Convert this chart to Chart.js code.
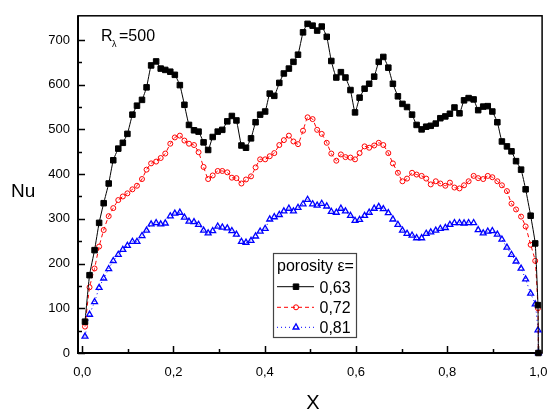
<!DOCTYPE html>
<html>
<head>
<meta charset="utf-8">
<script src="https://cdn.jsdelivr.net/npm/chart.js@4.4.1/dist/chart.umd.min.js"></script>
<style>
  html, body { margin: 0; padding: 0; background: #fff; }
  #wrap { width: 547px; height: 410px; }
</style>
</head>
<body>
<div id="wrap"><canvas id="nuChart" width="547" height="410"></canvas></div>
<script>
// x positions along the channel
const xs = [0.006,0.016,0.027,0.037,0.047,0.058,0.068,0.079,0.089,0.099,
    0.110,0.120,0.131,0.141,0.151,0.162,0.172,0.182,0.193,0.203,
    0.214,0.224,0.234,0.245,0.255,0.266,0.276,0.286,0.297,0.307,
    0.318,0.328,0.338,0.349,0.359,0.370,0.380,0.390,0.401,0.411,
    0.421,0.432,0.442,0.453,0.463,0.473,0.484,0.494,0.505,0.515,
    0.525,0.536,0.546,0.557,0.567,0.577,0.588,0.598,0.608,0.619,
    0.629,0.640,0.650,0.660,0.671,0.681,0.692,0.702,0.712,0.723,
    0.733,0.744,0.754,0.764,0.775,0.785,0.796,0.806,0.816,0.827,
    0.837,0.847,0.858,0.868,0.879,0.889,0.899,0.910,0.920,0.931,
    0.941,0.951,0.962,0.972,0.983,0.993,0.999,1.000];

// Nu for porosity 0,63
const nu063 = [70,174,230,291,335,379,431,457,470,490,
    533,553,566,594,643,652,636,633,629,622,
    599,555,510,498,495,471,454,483,495,499,
    518,530,520,464,459,480,516,533,540,580,
    575,604,625,636,651,667,717,736,732,721,
    730,707,653,616,628,616,588,538,571,591,
    602,618,651,662,638,602,574,557,550,533,
    510,500,506,508,513,525,529,535,549,536,
    565,570,567,543,551,552,540,516,473,462,
    451,429,410,366,307,245,107,0];

// Nu for porosity 0,72
const nu072 = [59,147,189,238,275,306,324,342,350,357,
    366,374,389,410,424,428,436,446,468,482,
    486,475,468,465,449,416,389,397,407,407,
    404,392,391,379,388,395,415,433,433,440,
    447,465,476,486,473,467,497,527,523,499,
    490,470,446,430,444,438,437,433,447,462,
    459,464,470,465,447,424,403,384,390,403,
    399,396,390,377,384,379,374,381,370,368,
    375,384,396,391,389,396,393,384,375,362,
    334,321,305,283,242,206,100,0];

// Nu for porosity 0,81
const nu081 = [37,86,114,146,167,188,206,220,231,240,
    249,249,262,274,288,291,288,290,306,312,
    314,303,294,293,287,274,268,273,283,281,
    279,273,265,249,247,251,261,272,278,299,
    304,309,317,323,317,325,333,343,333,330,
    334,328,316,314,323,317,307,296,298,307,
    314,323,327,322,313,299,287,274,267,263,
    257,257,267,270,274,278,280,287,291,291,
    290,291,291,275,268,272,273,265,254,236,
    220,205,189,165,133,109,51,0];

const seriesLabels = ['0,63', '0,72', '0,81'];
const xTicks = [0, 0.2, 0.4, 0.6, 0.8, 1.0];
const xMinor = [0.1, 0.3, 0.5, 0.7, 0.9];
const yTicks = [0, 100, 200, 300, 400, 500, 600, 700];
const yMinor = [50, 150, 250, 350, 450, 550, 650];

const FONT = "'Liberation Sans', Arial, sans-serif";
const toPts = ys => xs.map((x, i) => ({ x: x, y: ys[i] }));

const styles = [
    { color: '#000000', dash: [], point: 'rect', radius: 3.9, fill: '#000000', bw: 1 },
    { color: '#ff0000', dash: [4, 3], point: 'circle', radius: 2.5, fill: 'rgba(255,255,255,0)', bw: 1 },
    { color: '#0000ff', dash: [1, 3], point: 'triangle', radius: 3.4, fill: 'rgba(255,255,255,0)', bw: 1.3 }
];

const framePlugin = {
    id: 'frame',
    beforeDatasetsDraw(chart) {
        const { ctx, chartArea: a, scales: { x, y } } = chart;
        ctx.save();
        ctx.strokeStyle = '#000';
        ctx.lineWidth = 1.5;
        ctx.strokeRect(a.left, a.top, a.right - a.left, a.bottom - a.top);
        ctx.lineWidth = 2;
        ctx.beginPath();
        ctx.moveTo(a.left, a.top); ctx.lineTo(a.left, a.bottom); ctx.lineTo(a.right, a.bottom);
        ctx.stroke();
        ctx.lineWidth = 1.5;
        ctx.beginPath();
        xTicks.forEach(v => { const p = Math.round(x.getPixelForValue(v)) + 0.5; ctx.moveTo(p, a.bottom); ctx.lineTo(p, a.bottom - 7); });
        xMinor.forEach(v => { const p = Math.round(x.getPixelForValue(v)) + 0.5; ctx.moveTo(p, a.bottom); ctx.lineTo(p, a.bottom - 4); });
        yTicks.forEach(v => { const p = Math.round(y.getPixelForValue(v)) + 0.5; ctx.moveTo(a.left, p); ctx.lineTo(a.left + 7, p); });
        yMinor.forEach(v => { const p = Math.round(y.getPixelForValue(v)) + 0.5; ctx.moveTo(a.left, p); ctx.lineTo(a.left + 4, p); });
        ctx.stroke();
        ctx.restore();
    },
    afterDatasetsDraw(chart) {
        const { ctx } = chart;
        ctx.save();
        ctx.fillStyle = '#000';
        ctx.textBaseline = 'alphabetic';
        // axis titles
        ctx.font = '19px ' + FONT;
        ctx.textAlign = 'left';
        ctx.fillText('Nu', 11, 197);
        ctx.font = '20px ' + FONT;
        ctx.textAlign = 'center';
        ctx.fillText('X', 313, 409);
        // R_lambda annotation
        ctx.textAlign = 'left';
        ctx.font = '16px ' + FONT;
        ctx.fillText('R', 101, 41);
        ctx.font = '9px ' + FONT;
        ctx.fillText('λ', 112, 47);
        ctx.font = '16px ' + FONT;
        ctx.fillText('=500', 119, 41);

        // legend box
        const bx = 273.5, by = 253.5, bw = 83, bh = 84;
        ctx.fillStyle = '#fff';
        ctx.fillRect(bx, by, bw, bh);
        ctx.strokeStyle = '#444';
        ctx.lineWidth = 1.2;
        ctx.strokeRect(bx, by, bw, bh);
        ctx.fillStyle = '#000';
        ctx.font = '16px ' + FONT;
        ctx.fillText('porosity ε=', 277, 271);
        const rows = [286.7, 307.3, 327.3];
        styles.forEach((s, i) => {
            const cy = rows[i];
            ctx.strokeStyle = s.color;
            ctx.lineWidth = 1;
            ctx.setLineDash(s.dash);
            ctx.beginPath(); ctx.moveTo(277, cy); ctx.lineTo(314, cy); ctx.stroke();
            ctx.setLineDash([]);
            ctx.fillStyle = s.fill;
            ctx.lineWidth = s.bw;
            Chart.helpers.drawPoint(ctx, { pointStyle: s.point, radius: s.radius, rotation: 0, borderWidth: s.bw }, 296, cy);
            ctx.fillStyle = '#000';
            ctx.font = '16px ' + FONT;
            ctx.fillText(seriesLabels[i], 319.5, cy + 6);
        });
        ctx.restore();
    }
};

new Chart(document.getElementById('nuChart').getContext('2d'), {
    type: 'scatter',
    data: {
        datasets: [nu063, nu072, nu081].map((ys, i) => ({
            label: seriesLabels[i],
            data: toPts(ys),
            showLine: true,
            borderColor: styles[i].color,
            borderWidth: 1,
            borderDash: styles[i].dash,
            tension: 0.15,
            pointStyle: styles[i].point,
            pointRadius: styles[i].radius,
            pointHoverRadius: styles[i].radius,
            pointBackgroundColor: styles[i].fill,
            pointBorderColor: styles[i].color,
            pointBorderWidth: styles[i].bw,
            clip: false
        }))
    },
    options: {
        responsive: false,
        animation: false,
        devicePixelRatio: 1,
        layout: { padding: { left: 0, right: 1, top: 6, bottom: 0 } },
        plugins: { legend: { display: false }, tooltip: { enabled: false } },
        scales: {
            x: {
                type: 'linear', min: -0.0093, max: 1.0081,
                afterBuildTicks: s => { s.ticks = xTicks.map(v => ({ value: v })); },
                afterFit: s => { s.height = 57; s.paddingLeft = 0; s.paddingRight = 0; },
                grid: { display: false, drawTicks: false },
                border: { display: false },
                ticks: { padding: 12, maxRotation: 0, autoSkip: false, color: '#000', font: { family: FONT, size: 13 },
                         callback: v => v.toFixed(1).replace('.', ',') }
            },
            y: {
                type: 'linear', min: 0, max: 754,
                afterBuildTicks: s => { s.ticks = yTicks.map(v => ({ value: v })); },
                afterFit: s => { s.width = 78; },
                grid: { display: false, drawTicks: false },
                border: { display: false },
                ticks: { padding: 8, color: '#000', font: { family: FONT, size: 13 }, callback: v => String(v) }
            }
        }
    },
    plugins: [framePlugin]
});
</script>
</body>
</html>
